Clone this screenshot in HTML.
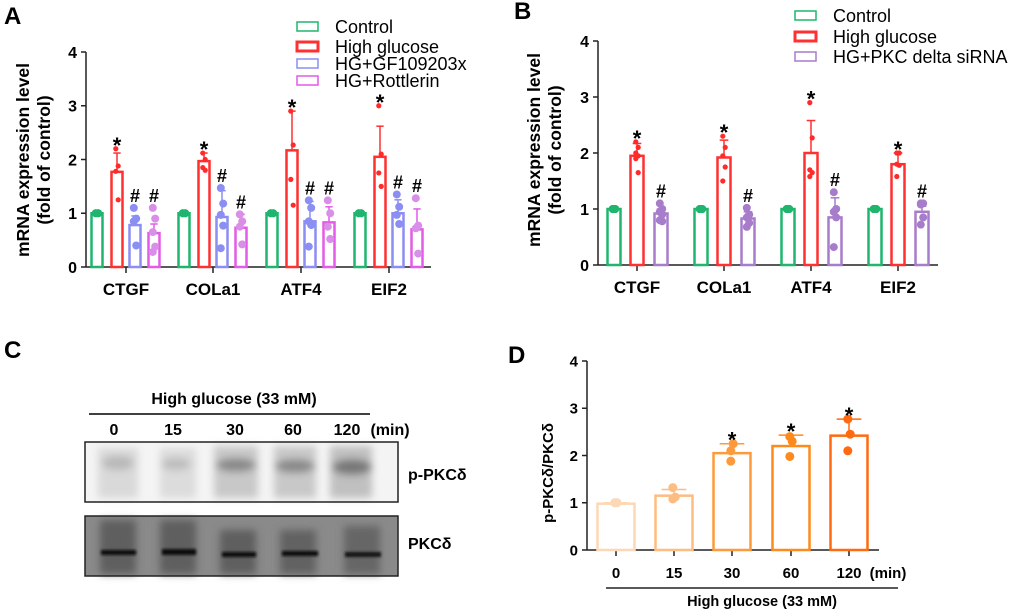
<!DOCTYPE html>
<html><head><meta charset="utf-8"><style>
body{margin:0;background:#fff;}
svg{display:block;font-family:"Liberation Sans",Arial,sans-serif;}
</style></head><body>
<svg id="fig" width="1020" height="614" viewBox="0 0 1020 614" xmlns="http://www.w3.org/2000/svg">
<defs>
<filter id="blur3" x="-50%" y="-50%" width="200%" height="200%"><feGaussianBlur stdDeviation="4"/></filter>
<filter id="blur1" x="-50%" y="-50%" width="200%" height="200%"><feGaussianBlur stdDeviation="1.2"/></filter>
</defs>
<text x="4" y="24" font-size="24" font-weight="bold">A</text>
<text x="514" y="19" font-size="24" font-weight="bold">B</text>
<text x="4" y="358" font-size="24" font-weight="bold">C</text>
<text x="508" y="363" font-size="24" font-weight="bold">D</text>

<g>
<text x="234" y="404" font-size="16" font-weight="bold" text-anchor="middle">High glucose (33 mM)</text>
<line x1="89" y1="414" x2="370" y2="414" stroke="#000" stroke-width="1.5"/>
<text x="114" y="435" font-size="16" font-weight="bold" text-anchor="middle">0</text>
<text x="173" y="435" font-size="16" font-weight="bold" text-anchor="middle">15</text>
<text x="235" y="435" font-size="16" font-weight="bold" text-anchor="middle">30</text>
<text x="293" y="435" font-size="16" font-weight="bold" text-anchor="middle">60</text>
<text x="347" y="435" font-size="16" font-weight="bold" text-anchor="middle">120</text>
<text x="390" y="435" font-size="16" font-weight="bold" text-anchor="middle">(min)</text>
<g>
<rect x="85" y="442" width="313" height="60" fill="#f4f4f4"/>
<g filter="url(#blur3)">
<rect x="98" y="448" width="40" height="50" fill="#d9d9d9"/>
<rect x="160" y="448" width="36" height="50" fill="#dcdcdc"/>
<rect x="214" y="446" width="44" height="52" fill="#c8c8c8"/>
<rect x="274" y="446" width="42" height="52" fill="#c8c8c8"/>
<rect x="330" y="446" width="42" height="52" fill="#c0c0c0"/>
<ellipse cx="118" cy="463" rx="16" ry="7" fill="#b8b8b8"/>
<ellipse cx="176" cy="464" rx="15" ry="6" fill="#bcbcbc"/>
<ellipse cx="236" cy="465" rx="20" ry="7" fill="#888"/>
<ellipse cx="295" cy="466" rx="20" ry="7" fill="#888"/>
<ellipse cx="352" cy="467" rx="20" ry="8" fill="#777"/>
</g>
<rect x="85" y="442" width="313" height="60" fill="none" stroke="#222" stroke-width="1.5"/>
</g>
<g>
<rect x="85" y="516" width="313" height="60" fill="#8a8a8a"/>
<g filter="url(#blur3)">
<rect x="100" y="520" width="36" height="54" fill="#5e5e5e"/>
<rect x="160" y="520" width="36" height="54" fill="#5e5e5e"/>
<rect x="220" y="530" width="36" height="44" fill="#5e5e5e"/>
<rect x="280" y="530" width="36" height="44" fill="#626262"/>
<rect x="344" y="526" width="36" height="48" fill="#666"/>
</g>
<g filter="url(#blur1)">
<rect x="101" y="550" width="35" height="5" fill="#111"/>
<rect x="162" y="549" width="34" height="6" fill="#111"/>
<rect x="222" y="552" width="34" height="5" fill="#111"/>
<rect x="282" y="551" width="36" height="5" fill="#111"/>
<rect x="345" y="552" width="36" height="5" fill="#151515"/>
</g>
<rect x="85" y="516" width="313" height="60" fill="none" stroke="#222" stroke-width="1.5"/>
</g>
<text x="408" y="480" font-size="16" font-weight="bold">p-PKCδ</text>
<text x="408" y="549" font-size="16" font-weight="bold">PKCδ</text>
</g>
<g id="charts"></g>
</svg>
<script>
const catsA = ["CTGF","COLa1","ATF4","EIF2"];
const seriesA = ["Control","High glucose","HG+GF109203x","HG+Rottlerin"];
const meansA_ctrl = [1,1,1,1];
const meansA_hg = [1.77,1.97,2.17,2.05];
const meansA_gf = [0.78,0.93,0.85,1.0];
const meansA_rott = [0.63,0.73,0.83,0.70];
const errA_hg = [2.12,2.12,2.90,2.62];
const errA_gf = [0.95,1.42,1.22,1.25];
const errA_rott = [0.80,0.98,1.12,1.08];
const ptsA_ctrl = [[1,1,1,1],[1,1,1,1],[1,1,1,1],[1,1,1,1]];
const ptsA_hg = [[2.2,1.88,1.78,1.25],[2.12,2.0,1.85,1.8],[2.9,2.27,1.63,1.15],[3.0,2.1,1.75,1.5]];
const ptsA_gf = [[1.1,0.9,0.85,0.4],[1.47,1.18,0.97,0.77,0.35],[1.24,1.1,0.85,0.78,0.38],[1.35,1.12,0.97,0.8]];
const ptsA_rott = [[1.1,0.9,0.65,0.38,0.28],[0.98,0.85,0.75,0.42],[1.24,1.0,0.75,0.52],[1.28,0.77,0.72,0.25]];
const yTicks = [0,1,2,3,4];
const catsB = ["CTGF","COLa1","ATF4","EIF2"];
const seriesB = ["Control","High glucose","HG+PKC delta siRNA"];
const meansB_ctrl = [1,1,1,1];
const meansB_hg = [1.95,1.92,2.0,1.8];
const meansB_pkc = [0.92,0.83,0.85,0.95];
const errB_hg = [2.17,2.23,2.58,2.0];
const errB_pkc = [1.0,0.95,1.2,1.05];
const ptsB_ctrl = [[1,1,1,1,1],[1,1,1,1,1],[1,1,1,1,1],[1,1,1,1,1]];
const ptsB_hg = [[2.2,2.1,2.0,1.95,1.9,1.65],[2.3,2.1,1.95,1.75,1.5],[2.9,2.27,1.7,1.65,1.58],[2.0,2.0,1.8,1.78,1.58]];
const ptsB_pkc = [[1.1,1.0,0.95,0.9,0.8,0.78],[1.02,0.9,0.85,0.75,0.68],[1.3,1.0,0.95,0.85,0.32],[1.1,1.1,1.08,0.85,0.72]];
const catsD = ["0","15","30","60","120"];
const meansD = [0.98,1.15,2.05,2.2,2.42];
const errD = [1.0,1.28,2.25,2.43,2.77];
const ptsD = [[1,1,1],[1.32,1.12,1.08],[2.1,2.25,1.88],[2.4,2.3,1.98],[2.77,2.45,2.1]];
const sigD = [false,false,true,true,true];

const NS="http://www.w3.org/2000/svg";
const root=document.getElementById('charts');
function mk(tag,attrs,parent,text){const e=document.createElementNS(NS,tag);for(const k in attrs)e.setAttribute(k,attrs[k]);if(text!==undefined)e.textContent=text;(parent||root).appendChild(e);return e;}

function axes(g,x0,x1,y0,y4,ticksX,labelsX,fs,xfs){
  const ys=v=>y0-(y0-y4)*v/4;
  mk('line',{x1:x0,y1:y0,x2:x1,y2:y0,stroke:'#222','stroke-width':1.5},g);
  mk('line',{x1:x0,y1:y0,x2:x0,y2:y4,stroke:'#222','stroke-width':1.5},g);
  yTicks.forEach(t=>{
    mk('line',{x1:x0-5,y1:ys(t),x2:x0,y2:ys(t),stroke:'#222','stroke-width':1.5},g);
    const tl=mk('text',{x:x0-9,y:ys(t)+fs*0.36,'font-size':fs,'font-weight':'bold','text-anchor':'end'},g,t);
    
    
  });
  ticksX.forEach((x,i)=>{
    mk('line',{x1:x,y1:y0,x2:x,y2:y0+6,stroke:'#222','stroke-width':1.5},g);
    if(labelsX){const tl=mk('text',{x:x,y:y0+28,'font-size':xfs,'font-weight':'bold','text-anchor':'middle'},g,labelsX[i]);
    
    }
  });
  return ys;
}
function barGroup(g,cx,w,mean,err,pts,color,dotColor,r,ys,name,mark){
  const bg=mk('g',{},g);
  
  
  const yT=ys(mean),yB=ys(0);
  mk('rect',{x:cx-w/2,y:yT,width:w,height:yB-yT,fill:'none',stroke:color,'stroke-width':2.5},bg);
  if(err!=null){
    mk('line',{x1:cx,y1:yT,x2:cx,y2:ys(err),stroke:color,'stroke-width':1.5},bg);
    mk('line',{x1:cx-w/3,y1:ys(err),x2:cx+w/3,y2:ys(err),stroke:color,'stroke-width':1.5},bg);
  }
  pts.forEach((p,i)=>{const dx=(i%2?1:-1)*1.2;
    mk('circle',{cx:cx+dx,cy:ys(p),r:r,fill:dotColor},bg);});
  if(mark){const top=Math.max(err||mean,...pts);
    const m=mk('text',{x:cx,y:ys(top)+(mark==='*'?4:-6),'font-size':mark==='*'?22:18,'font-weight':'bold','text-anchor':'middle'},bg,mark);
    
    }
}
function legend(g,x,rows,ys,colors,widths,fs){
  rows.forEach((s,i)=>{
    const lg=mk('g',{},g);
    
    
    mk('rect',{x:x,y:ys[i]-5,width:21,height:9,fill:'none',stroke:colors[i],'stroke-width':widths[i]},lg);
    mk('text',{x:x+38,y:ys[i]+6,'font-size':fs},lg,s);
  });
}

const gA=mk('g',{});


const tickA=[126,213,301,389];
const ysA=axes(gA,86,431,267,52,tickA,catsA,16,17);
const cA=['#1fb56e','#ff3030','#8b8ef2','#e35be6'];
const dA=['#1fb56e','#ff2a2a','#8b8ef2','#d98ee8'];
catsA.forEach((c,i)=>{
  const x=tickA[i];
  barGroup(gA,x-29,11,meansA_ctrl[i],null,ptsA_ctrl[i],cA[0],dA[0],4,ysA,'bar-a-control-'+c.toLowerCase(),null);
  barGroup(gA,x-9,11,meansA_hg[i],errA_hg[i],ptsA_hg[i],cA[1],dA[1],2.6,ysA,'bar-a-hg-'+c.toLowerCase(),'*');
  barGroup(gA,x+9,11,meansA_gf[i],errA_gf[i],ptsA_gf[i],cA[2],dA[2],4,ysA,'bar-a-gf-'+c.toLowerCase(),'#');
  barGroup(gA,x+28,11,meansA_rott[i],errA_rott[i],ptsA_rott[i],cA[3],dA[3],4,ysA,'bar-a-rott-'+c.toLowerCase(),'#');
});
const ytA=mk('text',{transform:'translate(29,160) rotate(-90)','font-size':17.5,'font-weight':'bold','text-anchor':'middle'},gA,'mRNA expression level');


const ytA2=mk('text',{transform:'translate(50,160) rotate(-90)','font-size':17.5,'font-weight':'bold','text-anchor':'middle'},gA,'(fold of control)');


legend(gA,297,seriesA,[27,47,64,81],cA,[1.5,3,1.5,1.5],18);

const gB=mk('g',{});


const tickB=[637,724,811,898];
const ysB=axes(gB,598,938,265,41,tickB,catsB,16,17);
const cB=['#1fb56e','#ff3030','#a77ccb'];
catsB.forEach((c,i)=>{
  const x=tickB[i];
  barGroup(gB,x-23,13,meansB_ctrl[i],null,ptsB_ctrl[i],cB[0],cB[0],4,ysB,'bar-b-control-'+c.toLowerCase(),null);
  barGroup(gB,x,13,meansB_hg[i],errB_hg[i],ptsB_hg[i],cB[1],'#ff2a2a',2.6,ysB,'bar-b-hg-'+c.toLowerCase(),'*');
  barGroup(gB,x+24,13,meansB_pkc[i],errB_pkc[i],ptsB_pkc[i],cB[2],cB[2],4,ysB,'bar-b-pkc-sirna-'+c.toLowerCase(),'#');
});
const ytB=mk('text',{transform:'translate(540,150) rotate(-90)','font-size':17.5,'font-weight':'bold','text-anchor':'middle'},gB,'mRNA expression level');


const ytB2=mk('text',{transform:'translate(561,150) rotate(-90)','font-size':17.5,'font-weight':'bold','text-anchor':'middle'},gB,'(fold of control)');


legend(gB,795,seriesB,[16,37,57],cB,[1.5,3,1.5],18);

const gD=mk('g',{});


const tickD=[616,674,732,791,849];
const ysD=axes(gD,587,879,550,361,tickD,null,15,15);
const cD=['#fdd8b6','#fdbd82','#fd9b3c','#fd8a1c','#ff6a10'];
catsD.forEach((c,i)=>{
  barGroup(gD,tickD[i],37,meansD[i],errD[i],ptsD[i],cD[i],cD[i],4.5,ysD,'bar-d-'+c+'min',sigD[i]?'*':null);
  const tl=mk('text',{x:tickD[i],y:578,'font-size':15,'font-weight':'bold','text-anchor':'middle'},gD,c);
  
  
});
const unitD=mk('text',{x:888,y:578,'font-size':15,'font-weight':'bold','text-anchor':'middle'},gD,'(min)');


mk('line',{x1:606,y1:588,x2:898,y2:588,stroke:'#222','stroke-width':1.5},gD);
const xtD=mk('text',{x:762,y:606,'font-size':14.5,'font-weight':'bold','text-anchor':'middle'},gD,'High glucose (33 mM)');


const ytD=mk('text',{transform:'translate(553,473) rotate(-90)','font-size':15,'font-weight':'bold','text-anchor':'middle'},gD,'p-PKCδ/PKCδ');


</script>
</body></html>
